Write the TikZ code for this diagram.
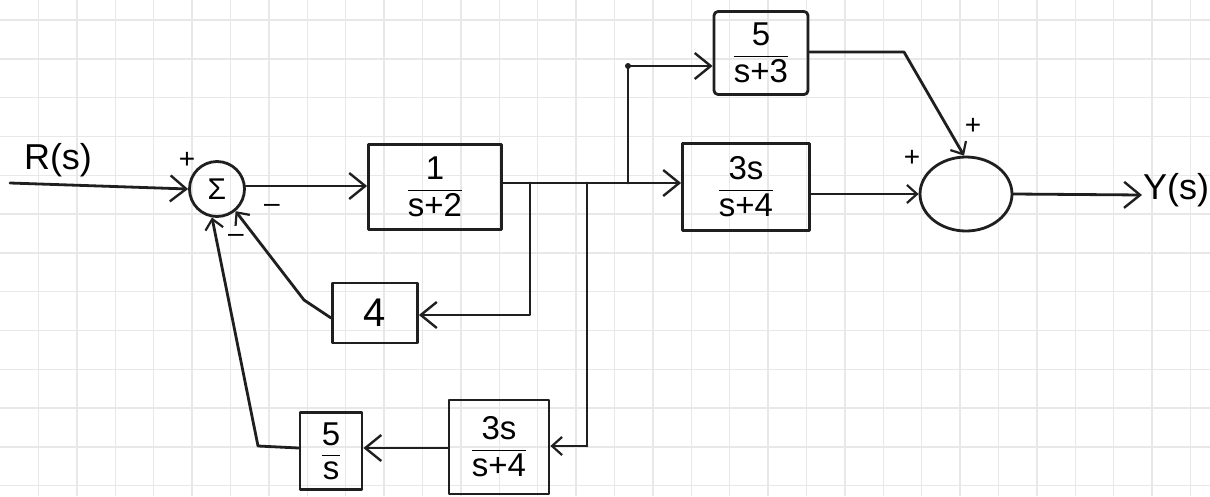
\documentclass[tikz,border=0pt]{standalone}
\usepackage{amsmath}
\usepackage{fontspec}
\setmainfont{Liberation Sans}
\usetikzlibrary{arrows.meta,shapes.geometric}
\begin{document}
\begin{tikzpicture}[x=1pt,y=-1pt,
  ink/.style={line width=2.8pt,draw=black!88,line join=round,line cap=round},
  tip/.style={ink,-{Straight Barb[length=16pt,width=26pt,line width=2.4pt]}},
  smalltip/.style={ink,-{Straight Barb[length=10pt,width=18pt,line width=2.2pt]}},
  blk/.style={ink,rectangle,inner sep=0pt,font=\fontsize{33}{36}\selectfont},
  lbl/.style={font=\fontsize{36}{40}\selectfont,inner sep=0pt},
  sgn/.style={font=\fontsize{28}{30}\selectfont,inner sep=0pt}]
\useasboundingbox (0,0) rectangle (1210,496);
\fill[white] (0,0) rectangle (1210,496);
% grid paper
\foreach \i in {1,...,31} \draw[black!9,line width=1.4pt] (38.4*\i,0) -- (38.4*\i,496);
\foreach \j in {0,...,12} \draw[black!9,line width=1.4pt] (0,20+38.8*\j) -- (1210,20+38.8*\j);

% summing junctions
\node[ink,circle,minimum size=55pt,inner sep=0pt,font=\fontsize{30}{34}\selectfont] (s1) at (217,189) {Σ};
\node[ink,ellipse,minimum width=92pt,minimum height=74pt,inner sep=0pt] (s2) at (966,194) {};

% blocks
\node[blk,minimum width=133pt,minimum height=85pt] (b1) at (435,187) {$\dfrac{\text{1}}{\text{s+2}}$};
\node[blk,minimum width=85pt,minimum height=60pt,font=\fontsize{40}{42}\selectfont] (b4) at (375,313) {4};
\node[blk,minimum width=100pt,minimum height=94pt] (bf) at (499,447) {$\dfrac{\text{3s}}{\text{s+4}}$};
\node[blk,minimum width=62pt,minimum height=77pt] (b5) at (331,451) {$\dfrac{\text{5}}{\text{s}}$};
\node[blk,minimum width=94pt,minimum height=83pt,rounded corners=4pt] (bt) at (761,53) {$\dfrac{\text{5}}{\text{s+3}}$};
\node[blk,minimum width=127pt,minimum height=87pt] (bm) at (746,187) {$\dfrac{\text{3s}}{\text{s+4}}$};

% labels
\node[lbl] (R) at (58,160) {R(s)};
\node[lbl] (Y) at (1176,190) {Y(s)};
\node[sgn] (p1) at (187,160) {+};
\node[sgn] (m1) at (272,208) {\textendash};
\node[sgn] (m2) at (236,238) {\textendash};
\node[sgn] (p2) at (912,158) {+};
\node[sgn] (p3) at (973,126) {+};

% coordinates
\coordinate (in) at (10,183);
\coordinate (j1) at (530,183);
\coordinate (j2) at (587,183);
\coordinate (j3) at (628,183);
\coordinate (k1) at (530,315);
\coordinate (k2) at (587,446);
\coordinate (k3) at (628,66);
\coordinate (f1) at (304,300);
\coordinate (f2) at (258,446);
\coordinate (t1) at (904,52);
\coordinate (out) at (1142,195);

% connectors
\draw[tip] (in) -- (s1.west);
\draw[tip] (s1.east |- 0,186) -- (b1.west |- 0,186);
\draw[tip] (b1.east |- j1) -- (j1) -- (j2) -- (j3) -- (bm.west |- j3);
\draw[tip] (j1) -- (k1) -- (b4.east |- k1);
\draw[ink] (j2) -- (k2);
\draw[smalltip] (k2) -- (bf.east |- k2);
\draw[tip] (j3) -- (k3) -- (bt.west |- k3);
\fill[black!88] (k3) circle (3pt);
\draw[smalltip] (b4.west |- 0,318) -- (f1) -- (s1.-50);
\draw[tip] (bf.west |- 0,448) -- (b5.east |- 0,448);
\draw[smalltip] (b5.west |- 0,448) -- (f2) -- (s1.-100);
\draw[smalltip] (bt.east |- t1) -- (t1) -- (s2.93);
\draw[smalltip] (bm.east |- s2.west) -- (s2.west);
\draw[tip] (s2.east) -- (out);
\end{tikzpicture}
\end{document}
